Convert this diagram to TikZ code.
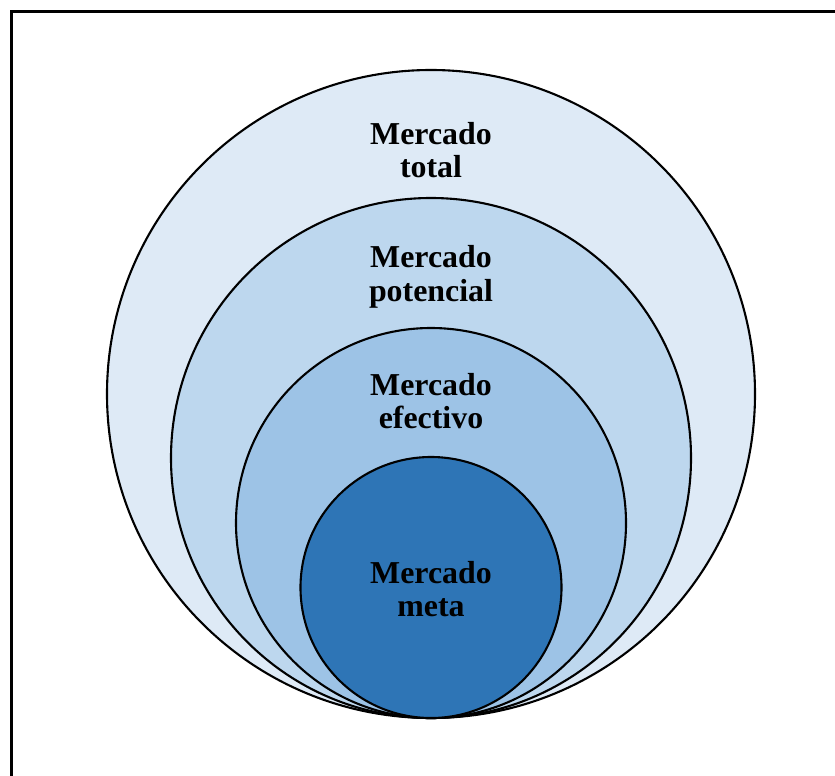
\documentclass[tikz,border=0pt]{standalone}
\usepackage{fontspec}
\setmainfont{Liberation Serif}
\definecolor{totalC}{HTML}{DEEAF6}
\definecolor{potC}{HTML}{BDD7EE}
\definecolor{efeC}{HTML}{9DC3E6}
\definecolor{metaC}{HTML}{2E75B6}
\tikzset{
	mkt/.style={draw=black,circle,line width=2.1bp,inner sep=0pt},
	lbl/.style={align=center,font=\fontsize{32}{33.5}\selectfont\bfseries}
}
\begin{document}
\begin{tikzpicture}[x=1bp,y=-1bp]

	\useasboundingbox (0,0) rectangle (835,776);
	\clip (0,0) rectangle (835,776);
	\draw[line width=2.6bp] (11.5,11.5) rectangle (860,800);
	
	\node[mkt,fill=totalC,minimum size=648bp] (Total) at (431,394) {};
	\node[mkt,fill=potC,minimum size=520bp] (Pot) at (431,458) {};
	\node[mkt,fill=efeC,minimum size=390bp] (Efe) at (431,523) {};
	\node[mkt,fill=metaC,minimum size=261bp] (Meta) at (431,587.5) {};
	
	\node[lbl] (TotalL) at (431,150) {Mercado\\total};
	\node[lbl] (PotL) at (431,277) {Mercado\\potencial};
	\node[lbl] (EfeL) at (431,401) {Mercado\\efectivo};
	\node[lbl] (MetaL) at (431,589) {Mercado\\meta};
	
\end{tikzpicture}
\end{document}
